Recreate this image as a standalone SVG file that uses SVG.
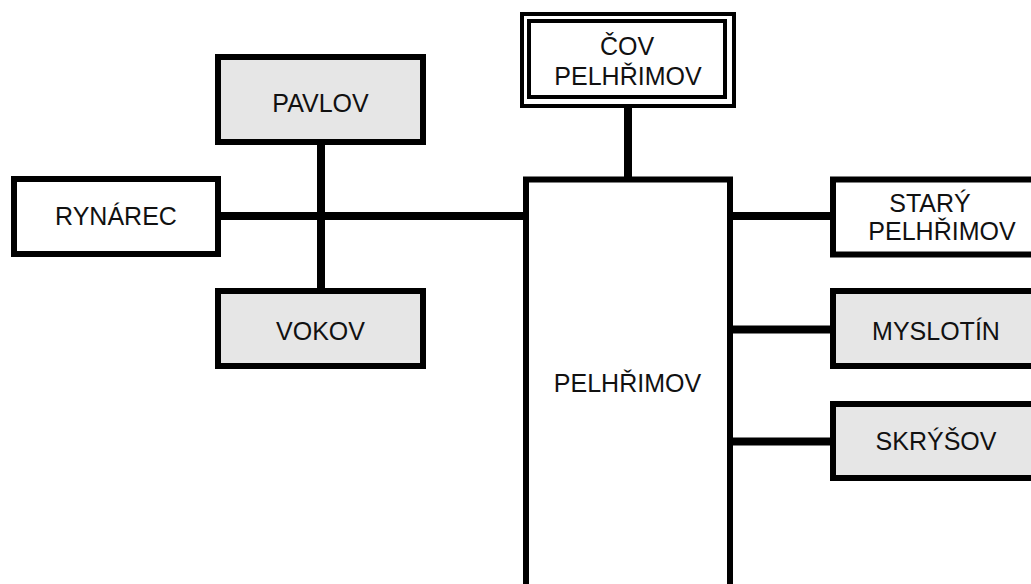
<svg xmlns="http://www.w3.org/2000/svg" width="1031" height="584" viewBox="0 0 1031 584">
<style>
.box{stroke:#000;stroke-width:6;fill:#fff}
.grey{fill:#e6e6e6}
.thin{stroke:#000;stroke-width:4;fill:#fff}
.conn{stroke:#000;stroke-width:8;fill:none}
text{font-family:"Liberation Sans",Arial,sans-serif;font-size:25px;fill:#111;text-anchor:middle}
</style>
<rect width="1031" height="584" fill="#fff"/>
<g id="connectors">
<line class="conn" x1="628" y1="106" x2="628" y2="180"/>
<line class="conn" x1="218" y1="216" x2="526" y2="216"/>
<line class="conn" x1="321" y1="142" x2="321" y2="291"/>
<line class="conn" x1="730" y1="216" x2="833" y2="216"/>
<line class="conn" x1="730" y1="329.5" x2="833" y2="329.5"/>
<line class="conn" x1="730" y1="441.5" x2="833" y2="441.5"/>
</g>
<g id="cov">
<rect class="thin" x="522" y="14" width="212" height="92"/>
<rect class="thin" x="529" y="21" width="196" height="76"/>
<text x="627" y="55">ČOV</text>
<text x="628" y="85">PELHŘIMOV</text>
</g>
<g id="pelhrimov">
<rect class="box" x="526" y="179.5" width="204" height="420"/>
<text x="627.5" y="392">PELHŘIMOV</text>
</g>
<g id="pavlov">
<rect class="box grey" x="218" y="57" width="205" height="85"/>
<text x="320.5" y="111.5">PAVLOV</text>
</g>
<g id="rynarec">
<rect class="box" x="14" y="179" width="204" height="75"/>
<text x="116" y="225">RYNÁREC</text>
</g>
<g id="vokov">
<rect class="box grey" x="218" y="291" width="205" height="75"/>
<text x="320.5" y="340">VOKOV</text>
</g>
<g id="stary">
<rect class="box" x="833" y="179.5" width="205" height="75"/>
<text x="930" y="212">STARÝ</text>
<text x="942" y="240">PELHŘIMOV</text>
</g>
<g id="myslotin">
<rect class="box grey" x="833" y="291" width="205" height="75"/>
<text x="936" y="340">MYSLOTÍN</text>
</g>
<g id="skrysov">
<rect class="box grey" x="833" y="404" width="205" height="74"/>
<text x="936" y="450">SKRÝŠOV</text>
</g>
</svg>
